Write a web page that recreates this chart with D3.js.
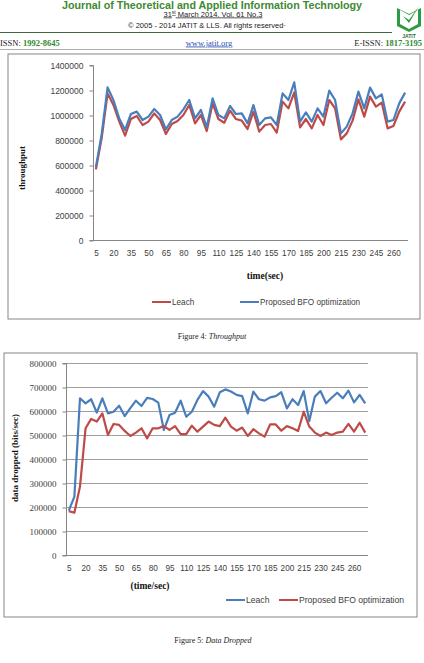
<!DOCTYPE html>
<html><head><meta charset="utf-8">
<script src="https://cdn.jsdelivr.net/npm/d3@7"></script>
<style>body{margin:0;background:#fff}svg{display:block}</style>
</head><body>
<svg id="c" width="424" height="663"></svg>
<script>
const times = [5,10,15,20,25,30,35,40,45,50,55,60,65,70,75,80,85,90,95,100,105,110,115,120,125,130,135,140,145,150,155,160,165,170,175,180,185,190,195,200,205,210,215,220,225,230,235,240,245,250,255,260,265,270];
const throughputTicks = [0,200000,400000,600000,800000,1000000,1200000,1400000];
const dropTicks = [0,100000,200000,300000,400000,500000,600000,700000,800000];
const throughputLeach = [565000,820000,1173000,1080000,947000,835000,968000,992000,920000,947000,1013000,960000,848000,928000,952000,1000000,1080000,933000,1000000,872000,1093000,968000,938000,1035000,968000,955000,888000,1027000,867000,920000,928000,859000,1107000,1053000,1181000,901000,968000,893000,1000000,920000,1120000,1053000,805000,853000,955000,1125000,987000,1147000,1067000,1099000,893000,912000,1027000,1107000];
const throughputBFO = [585000,850000,1221000,1120000,973000,880000,1008000,1027000,960000,987000,1048000,1000000,885000,960000,987000,1045000,1120000,973000,1040000,901000,1133000,1000000,973000,1072000,1008000,1013000,933000,1080000,920000,973000,981000,920000,1173000,1120000,1261000,947000,1021000,947000,1053000,987000,1195000,1120000,853000,907000,1013000,1187000,1053000,1219000,1133000,1165000,947000,960000,1093000,1179000];
const dropLeach = [185000,243000,653000,632000,649000,593000,653000,590000,597000,622000,579000,612000,643000,621000,655000,650000,635000,521000,583000,593000,643000,576000,597000,646000,683000,660000,618000,678000,690000,681000,667000,662000,590000,681000,649000,643000,657000,662000,678000,611000,649000,625000,683000,558000,660000,683000,632000,655000,676000,653000,685000,636000,667000,632000];
const dropBFO = [183000,176000,285000,528000,567000,556000,590000,500000,546000,542000,517000,496000,510000,528000,486000,528000,528000,537000,521000,537000,504000,504000,539000,514000,535000,556000,542000,537000,572000,535000,518000,531000,496000,524000,507000,493000,544000,544000,518000,537000,528000,517000,597000,535000,510000,496000,510000,500000,510000,514000,546000,514000,551000,510000];
const seriesNames = ["Leach","Proposed BFO optimization"];

const RED = "#BE4B48", BLUE = "#4A7EBB", AX = "#868686", TXT = "#404040";
const svg = d3.select("#c");
const sans = "'Liberation Sans', Arial, sans-serif";
const serif = "'Liberation Serif', 'Times New Roman', serif";

// ---------- Header ----------
const hdr = svg.append("g");
hdr.append("text").attr("x",212).attr("y",8.5).attr("text-anchor","middle")
  .attr("font-family",sans).attr("font-weight","bold").attr("font-size",10.5)
  .attr("fill","#3d8a32").attr("textLength",300).attr("lengthAdjust","spacingAndGlyphs")
  .text("Journal of Theoretical and Applied Information Technology");
const d1 = hdr.append("text").attr("x",213).attr("y",16.5).attr("text-anchor","middle")
  .attr("font-family",sans).attr("font-size",7.5).attr("fill","#222")
  .attr("text-decoration","underline");
d1.append("tspan").text("31");
d1.append("tspan").attr("dy",-2.5).attr("font-size",5).text("st");
d1.append("tspan").attr("dy",2.5).text(" March 2014. Vol. 61 No.3");
hdr.append("text").attr("x",207).attr("y",27.5).attr("text-anchor","middle")
  .attr("font-family",sans).attr("font-size",7.5).attr("fill","#222")
  .text("© 2005 - 2014 JATIT & LLS. All rights reserved·");
hdr.append("line").attr("x1",0).attr("x2",392).attr("y1",32.5).attr("y2",32.5).attr("stroke","#3f6b3a").attr("stroke-width",1.2);
// logo
const lg = hdr.append("g");
lg.append("path").attr("d","M397,8 L409,14 L421,8 L421,26 L409,32 L397,26 Z").attr("fill","#2f9a45");
lg.append("path").attr("d","M400,10 L409,15 L418,10 L418,24 L409,29 L400,24 Z").attr("fill","#fff");
lg.append("path").attr("d","M403,16 L409,20 L419,6 L409,23 Z").attr("fill","#2f9a45");
lg.append("text").attr("x",409).attr("y",37.5).attr("text-anchor","middle").attr("font-family",sans)
  .attr("font-weight","bold").attr("font-size",5).attr("fill","#2a6b35").text("JATIT");
// ISSN row
const is = hdr.append("text").attr("x",0).attr("y",45.5).attr("font-family",serif).attr("font-size",8.5).attr("fill","#222");
is.append("tspan").text("ISSN: ");
is.append("tspan").attr("font-weight","bold").attr("fill","#2f8a2f").text("1992-8645");
hdr.append("text").attr("x",209).attr("y",45.5).attr("text-anchor","middle").attr("font-family",serif)
  .attr("font-size",8.5).attr("fill","#2a4fb0").attr("text-decoration","underline").text("www.jatit.org");
const es = hdr.append("text").attr("x",422).attr("y",45.5).attr("text-anchor","end").attr("font-family",serif).attr("font-size",8.5).attr("fill","#222");
es.append("tspan").text("E-ISSN: ");
es.append("tspan").attr("font-weight","bold").attr("fill","#2f8a2f").text("1817-3195");
hdr.append("line").attr("x1",0).attr("x2",424).attr("y1",49.5).attr("y2",49.5).attr("stroke","#999").attr("stroke-width",0.8);

// ---------- Chart builder ----------
function chart(o){
  const g = svg.append("g");
  g.append("rect").attr("x",o.box[0]).attr("y",o.box[1]).attr("width",o.box[2]).attr("height",o.box[3])
    .attr("fill","#fff").attr("stroke",AX).attr("stroke-width",1);
  const x = d3.scalePoint().domain(times).range([o.x0,o.x1]).padding(0.5);
  const y = d3.scaleLinear().domain([0,o.ymax]).range([o.y0,o.y1]);
  if(o.grid){
    g.append("g").selectAll("line").data(o.ticks.slice(1)).join("line")
      .attr("x1",o.x0).attr("x2",o.x1).attr("y1",d=>Math.round(y(d))+0.5).attr("y2",d=>Math.round(y(d))+0.5)
      .attr("stroke",AX).attr("stroke-width",0.8);
  }
  const ya = g.append("g").attr("transform",`translate(${o.x0+0.5},0.5)`)
    .call(d3.axisLeft(y).tickValues(o.ticks).tickSize(4).tickPadding(o.ypad).tickFormat(d3.format("d")));
  ya.select(".domain").attr("stroke",AX).attr("d",`M-4,${y(0)}H0V${y(o.ymax)}H-4`);
  ya.selectAll(".tick line").attr("stroke",AX);
  ya.selectAll("text").attr("font-family",o.yfont).attr("font-size",o.yfs).attr("fill",TXT);
  const xa = g.append("g").attr("transform",`translate(0,${o.y0+0.5})`)
    .call(d3.axisBottom(x).tickValues(times.filter((t,i)=>i%3===0)).tickSize(0).tickPadding(o.xpad));
  xa.select(".domain").attr("stroke",AX).attr("d",`M${o.x0},0H${o.x1}`);
  xa.selectAll("text").attr("font-family",sans).attr("font-size",o.xfs).attr("fill",TXT);
  const line = d3.line().x((d,i)=>x(times[i])).y(d=>y(d));
  o.series.forEach(s=>{
    g.append("path").datum(s.values).attr("d",line).attr("fill","none")
      .attr("stroke",s.color).attr("stroke-width",2.2).attr("stroke-linejoin","round");
  });
  g.append("text").attr("transform",`translate(${o.ylab[0]},${o.ylab[1]}) rotate(-90)`)
    .attr("text-anchor","middle").attr("font-family",serif).attr("font-weight","bold")
    .attr("font-size",o.labfs).attr("fill","#111").text(o.ytitle);
  g.append("text").attr("x",o.xlab[0]).attr("y",o.xlab[1]).attr("text-anchor","middle")
    .attr("font-family",serif).attr("font-weight","bold").attr("font-size",o.labfs+0.5).attr("fill","#111").text(o.xtitle);
  o.legend.forEach(l=>{
    g.append("line").attr("x1",l.x).attr("x2",l.x+19).attr("y1",o.legY).attr("y2",o.legY)
      .attr("stroke",l.color).attr("stroke-width",2);
    g.append("text").attr("x",l.x+20).attr("y",o.legY+3).attr("font-family",sans)
      .attr("font-size",o.legfs).attr("fill",TXT).text(l.name);
  });
  const cap = svg.append("text").attr("x",o.cap[0]).attr("y",o.cap[1]).attr("text-anchor","middle")
    .attr("font-family",serif).attr("font-size",8).attr("fill","#222");
  cap.append("tspan").text(o.capA);
  cap.append("tspan").attr("font-style","italic").text(o.capB);
}

chart({
  box:[8,54,412,265], x0:93, x1:408, y0:240, y1:65, ymax:1400000, ticks:throughputTicks,
  grid:false, yfont:sans, yfs:8.5, ypad:6, xfs:8.2, xpad:10,
  series:[{values:throughputLeach,color:RED},{values:throughputBFO,color:BLUE}],
  ytitle:"throughput", ylab:[25,168], xtitle:"time(sec)", xlab:[265,279], labfs:9,
  legY:302, legfs:8.2,
  legend:[{x:152,color:RED,name:seriesNames[0]},{x:240,color:BLUE,name:seriesNames[1]}],
  cap:[212,339], capA:"Figure 4: ", capB:"Throughput"
});
chart({
  box:[4,353,413,264], x0:66, x1:368, y0:555, y1:363, ymax:800000, ticks:dropTicks,
  grid:true, yfont:serif, yfs:9, ypad:6, xfs:8.2, xpad:10,
  series:[{values:dropLeach,color:BLUE},{values:dropBFO,color:RED}],
  ytitle:"data dropped (bits/sec)", ylab:[18,458], xtitle:"(time/sec)", xlab:[150,589], labfs:9,
  legY:600, legfs:8.6,
  legend:[{x:226,color:BLUE,name:seriesNames[0]},{x:279,color:RED,name:seriesNames[1]}],
  cap:[213,643], capA:"Figure 5: ", capB:"Data Dropped"
});
</script>
</body></html>
